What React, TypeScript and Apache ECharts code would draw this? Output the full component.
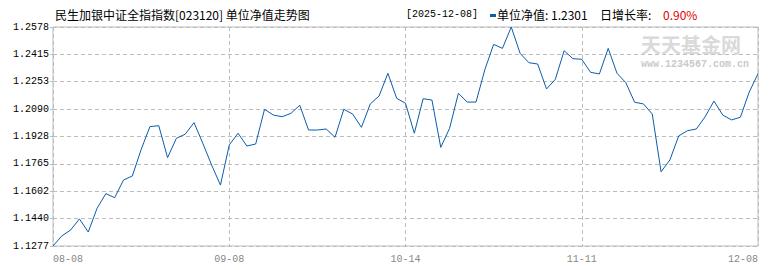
import React, { useEffect, useRef } from "react";
import * as echarts from "echarts";

const dates: string[] = [
  "2025-08-08", "2025-08-11", "2025-08-12", "2025-08-13", "2025-08-14", "2025-08-15",
  "2025-08-18", "2025-08-19", "2025-08-20", "2025-08-21", "2025-08-22",
  "2025-08-25", "2025-08-26", "2025-08-27", "2025-08-28", "2025-08-29",
  "2025-09-01", "2025-09-02", "2025-09-03", "2025-09-04", "2025-09-05",
  "2025-09-08", "2025-09-09", "2025-09-10", "2025-09-11", "2025-09-12",
  "2025-09-15", "2025-09-16", "2025-09-17", "2025-09-18", "2025-09-19",
  "2025-09-22", "2025-09-23", "2025-09-24", "2025-09-25", "2025-09-26",
  "2025-09-29", "2025-09-30",
  "2025-10-09", "2025-10-10",
  "2025-10-13", "2025-10-14", "2025-10-15", "2025-10-16", "2025-10-17",
  "2025-10-20", "2025-10-21", "2025-10-22", "2025-10-23", "2025-10-24",
  "2025-10-27", "2025-10-28", "2025-10-29", "2025-10-30", "2025-10-31",
  "2025-11-03", "2025-11-04", "2025-11-05", "2025-11-06", "2025-11-07",
  "2025-11-10", "2025-11-11", "2025-11-12", "2025-11-13", "2025-11-14",
  "2025-11-17", "2025-11-18", "2025-11-19", "2025-11-20", "2025-11-21",
  "2025-11-24", "2025-11-25", "2025-11-26", "2025-11-27", "2025-11-28",
  "2025-12-01", "2025-12-02", "2025-12-03", "2025-12-04", "2025-12-05",
  "2025-12-08",
];

const navValues: number[] = [
  1.1277, 1.1337, 1.1372, 1.1438, 1.1360, 1.1501, 1.1588, 1.1564, 1.1669, 1.1693,
  1.1850, 1.1986, 1.1992, 1.1802, 1.1917, 1.1941, 1.2010, 1.1887, 1.1758, 1.1639,
  1.1877, 1.1947, 1.1871, 1.1883, 1.2089, 1.2055, 1.2045, 1.2065, 1.2113, 1.1966,
  1.1966, 1.1972, 1.1923, 1.2089, 1.2061, 1.1982, 1.2121, 1.2168, 1.2303, 1.2154,
  1.2125, 1.1947, 1.2152, 1.2144, 1.1863, 1.1976, 1.2184, 1.2132, 1.2132, 1.2324,
  1.2475, 1.2451, 1.2578, 1.2422, 1.2366, 1.2358, 1.2210, 1.2267, 1.2437, 1.2390,
  1.2386, 1.2309, 1.2299, 1.2451, 1.2303, 1.2247, 1.2131, 1.2121, 1.2061, 1.1718,
  1.1788, 1.1931, 1.1962, 1.1972, 1.2045, 1.2138, 1.2055, 1.2026, 1.2042, 1.2191,
  1.2301,
];

const xTickLabels: string[] = ["08-08", "09-08", "10-14", "11-11", "12-08"];
const yTickLabels: string[] = [
  "1.1277", "1.1440", "1.1602", "1.1765", "1.1928", "1.2090", "1.2253", "1.2415", "1.2578",
];
const yMin = 1.1277;
const yMax = 1.2578;

const titleText = "民生加银中证全指指数[023120] 单位净值走势图";
const latestDateText = "[2025-12-08]";
const navLabelText = "单位净值: 1.2301";
const growthLabelText = "日增长率:";
const growthValueText = "0.90%";
const watermarkText = "天天基金网";
const watermarkUrl = "www.1234567.com.cn";

const LINE_COLOR = "#0d5cab";
const GRID_COLOR = "#bdbdbd";
const CJK = "'Noto Sans CJK SC', 'Noto Sans', sans-serif";
const MONO = "'Liberation Mono', 'DejaVu Sans Mono', monospace";

export default function App() {
  const ref = useRef<HTMLDivElement>(null);

  useEffect(() => {
    document.body.style.margin = "0";
    if (!ref.current) return;
    const chart = echarts.init(ref.current, undefined, { renderer: "svg" });
    const yStep = (yMax - yMin) / (yTickLabels.length - 1);
    const xStep = (dates.length - 1) / (xTickLabels.length - 1);

    chart.setOption({
      animation: false,
      backgroundColor: "#ffffff",
      grid: {
        left: 53,
        right: 12,
        top: 27,
        bottom: 24,
        containLabel: false,
        show: true,
        borderColor: GRID_COLOR,
        borderWidth: 1,
        backgroundColor: "transparent",
      },
      xAxis: {
        type: "category",
        data: dates,
        boundaryGap: false,
        axisLine: { show: false },
        axisTick: { show: false },
        axisLabel: {
          interval: xStep - 1,
          margin: 8,
          color: "#888888",
          fontSize: 10,
          fontFamily: MONO,
          alignMinLabel: "left",
          alignMaxLabel: "right",
          formatter: (_v: string, idx: number) => xTickLabels[Math.round(idx / xStep)] ?? "",
        },
        splitLine: {
          show: true,
          interval: xStep - 1,
          lineStyle: { color: GRID_COLOR, type: [4, 3], width: 1 },
        },
      },
      yAxis: {
        type: "value",
        min: yMin,
        max: yMax,
        interval: yStep,
        axisLine: { show: false },
        axisTick: { show: true, length: 3, lineStyle: { color: GRID_COLOR } },
        axisLabel: {
          margin: 4,
          color: "#000000",
          fontSize: 10,
          fontFamily: MONO,
          formatter: (v: number) => yTickLabels[Math.round((v - yMin) / yStep)] ?? "",
        },
        splitLine: {
          show: true,
          lineStyle: { color: GRID_COLOR, type: [4, 3], width: 1 },
        },
      },
      series: [
        {
          type: "line",
          data: navValues,
          symbol: "none",
          smooth: false,
          lineStyle: { color: LINE_COLOR, width: 1 },
          z: 5,
        },
      ],
      graphic: [
        {
          type: "text",
          x: 641,
          y: 44,
          z: 1,
          style: {
            text: watermarkText,
            fill: "#dadada",
            fontSize: 20,
            fontWeight: "bold",
            fontFamily: CJK,
            align: "left",
            verticalAlign: "middle",
          },
        },
        {
          type: "text",
          x: 641,
          y: 64,
          z: 1,
          style: {
            text: watermarkUrl,
            fill: "#cacaca",
            fontSize: 10,
            fontWeight: "bold",
            fontFamily: MONO,
            align: "left",
            verticalAlign: "middle",
          },
        },
        {
          type: "text",
          x: 55,
          y: 14,
          style: {
            text: titleText,
            fill: "#000000",
            fontSize: 12,
            fontFamily: CJK,
            align: "left",
            verticalAlign: "middle",
          },
        },
        {
          type: "text",
          x: 406,
          y: 14,
          style: {
            text: latestDateText,
            fill: "#000000",
            fontSize: 10,
            fontFamily: MONO,
            align: "left",
            verticalAlign: "middle",
          },
        },
        {
          type: "rect",
          shape: { x: 490, y: 14, width: 6, height: 3 },
          style: { fill: LINE_COLOR },
        },
        {
          type: "text",
          x: 497,
          y: 14,
          style: {
            text: navLabelText,
            fill: "#000000",
            fontSize: 12,
            fontFamily: CJK,
            align: "left",
            verticalAlign: "middle",
          },
        },
        {
          type: "text",
          x: 600,
          y: 14,
          style: {
            text: growthLabelText,
            fill: "#000000",
            fontSize: 12,
            fontFamily: CJK,
            align: "left",
            verticalAlign: "middle",
          },
        },
        {
          type: "text",
          x: 663,
          y: 14,
          style: {
            text: growthValueText,
            fill: "#e00000",
            fontSize: 12,
            fontFamily: CJK,
            align: "left",
            verticalAlign: "middle",
          },
        },
      ],
    });

    return () => {
      chart.dispose();
    };
  }, []);

  return <div ref={ref} style={{ width: 770, height: 270 }} />;
}
